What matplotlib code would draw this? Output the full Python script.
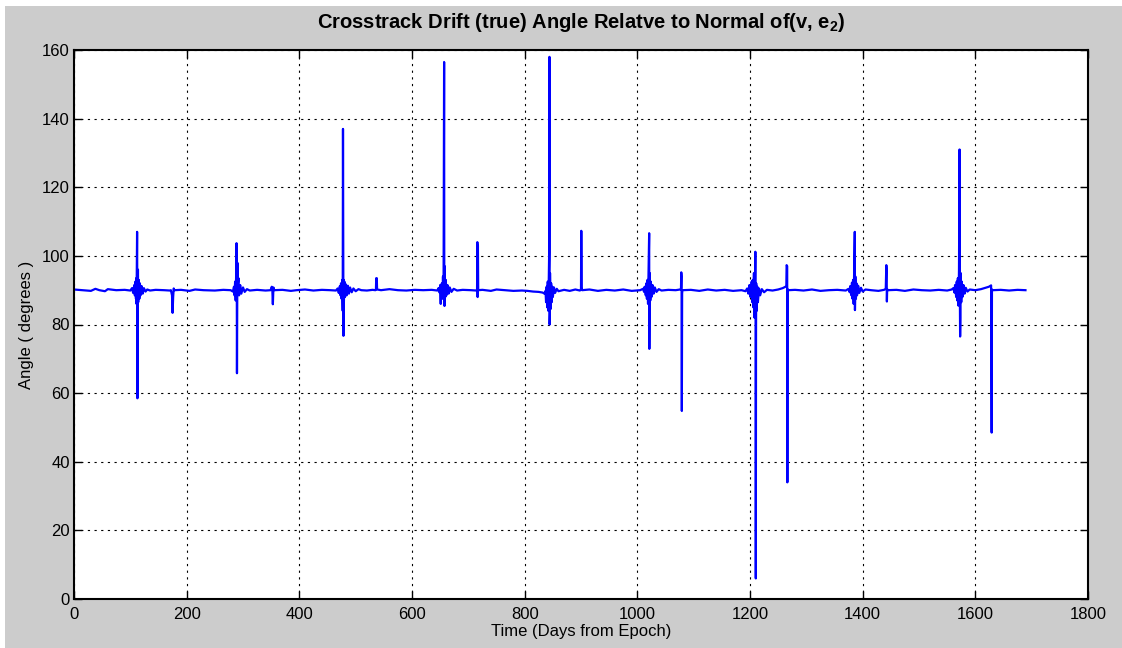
import matplotlib
matplotlib.use("Agg")
import matplotlib.pyplot as plt
from matplotlib.patches import Rectangle

plt.rcParams['font.family'] = ['Liberation Sans', 'DejaVu Sans']
plt.rcParams['mathtext.default'] = 'regular'

days = [0, 15, 30, 38, 45, 55, 60, 75, 90, 100,
        103, 105, 107, 108, 109, 110, 110.5, 111, 111.5, 112, 112.3, 112.6, 113, 113.5, 114, 115, 116, 117, 118, 120, 122, 124, 127, 130, 135,
        145, 160, 170,
        172, 174, 175, 176, 177, 178,
        190, 205, 215, 230, 250, 265, 278,
        282, 284, 285, 286, 287, 288, 288.5, 289, 289.3, 289.7, 290, 291, 292, 293, 295, 297, 300, 303, 307, 312,
        325, 340, 349,
        351, 352, 353, 354, 355,
        370, 385, 395, 410, 425, 440, 455, 465,
        468, 470, 472, 473, 474, 475, 476, 477, 477.5, 478, 478.3, 478.7, 479, 480, 481, 482, 484, 486, 488, 490, 493, 496, 500, 505, 510,
        520, 530, 535,
        536, 536.5, 537.5, 538,
        545, 560, 575, 590, 605, 620, 635, 645,
        647, 649, 650, 651, 651.5, 652, 653, 654, 655, 656, 657, 657.3, 657.7, 658, 659, 660, 661, 663, 665, 667, 670, 674, 680,
        690, 705, 714,
        715.5, 716, 716.5, 717, 717.5,
        725, 740, 750, 765, 780, 795,
        805, 815, 825, 832,
        835, 837, 838, 839, 840, 841, 842, 843, 843.5, 844, 844.3, 844.7, 845, 846, 847, 848, 849, 850, 852, 854, 857, 860,
        870, 880, 890, 898,
        900, 900.5, 901.2, 902,
        915, 930, 945, 960, 975, 990, 1005,
        1010, 1012, 1013, 1015, 1016, 1017, 1018, 1019, 1020, 1021, 1021.3, 1021.7, 1022, 1023, 1024, 1025, 1027, 1029, 1031, 1034, 1038, 1043,
        1055, 1068, 1076,
        1077.5, 1078, 1078.5, 1079, 1079.5, 1080,
        1095, 1110, 1125, 1140, 1155, 1170, 1185, 1192,
        1195, 1197, 1199, 1201, 1203, 1204, 1205, 1206, 1207, 1208, 1209, 1209.5, 1210, 1210.3, 1210.7, 1211, 1212, 1213, 1214, 1216, 1218, 1221, 1225, 1230,
        1240, 1250, 1258, 1263,
        1264.5, 1265, 1266, 1266.3, 1266.7, 1268,
        1280, 1295, 1310, 1325, 1340, 1355, 1370,
        1375, 1377, 1378, 1380, 1381, 1382, 1383, 1384, 1385, 1386, 1386.3, 1386.7, 1387, 1388, 1389, 1390, 1392, 1394, 1397, 1400, 1405,
        1415, 1428, 1438,
        1441, 1442, 1442.5, 1443, 1443.5, 1445,
        1460, 1475, 1490, 1505, 1520, 1535, 1550, 1558,
        1561, 1563, 1564, 1566, 1567, 1568, 1569, 1570, 1571, 1572, 1572.5, 1573, 1573.5, 1574, 1575, 1576, 1577, 1579, 1581, 1583, 1586, 1590,
        1600, 1610, 1618, 1624,
        1627, 1628, 1629, 1629.5, 1631,
        1645, 1660, 1675, 1689]

angle = [90.2, 90.0, 89.8, 90.4, 90.0, 89.7, 90.3, 90.0, 90.1, 89.9,
         90.6, 89.2, 91.5, 88.5, 92.5, 87.5, 93.5, 86, 97, 107, 90, 58.5, 82, 96, 86.5, 93, 87.5, 92, 88.5, 91.2, 89, 90.6, 89.6, 90.2, 89.9,
         90.1, 90.0, 89.9,
         90.0, 88.5, 83.4, 88, 90.5, 90.0,
         90.1, 89.8, 90.2, 90.0, 89.9, 90.1, 90.0,
         89.6, 91, 88.5, 92.5, 87, 96, 103.7, 90, 65.8, 86, 98, 92, 93.5, 88.5, 91.5, 89, 90.8, 89.5, 90.3, 89.9,
         90.1, 89.9, 90.0,
         91, 90.5, 85.9, 90.8, 90.0,
         90.1, 89.8, 90.0, 90.2, 89.9, 90.1, 90.0, 89.9,
         90.5, 89.2, 91.2, 88.5, 92, 87.5, 93, 84, 137, 90, 76.7, 93, 86, 92.5, 88, 91.8, 88.5, 91.3, 89, 90.8, 89.4, 90.5, 89.7, 90.3, 90.0,
         89.9, 90.1, 90.0,
         90.2, 93.5, 93.5, 90.2,
         90.0, 90.3, 90.0, 89.9, 90.1, 90.0, 90.1, 89.9,
         90.6, 89.3, 91.5, 86, 91, 88.5, 92, 87.5, 94, 88, 156.5, 90, 85.4, 97, 88, 93, 88.5, 91.5, 89, 90.8, 89.5, 90.4, 89.9,
         90.1, 90.0, 89.9,
         90.0, 104, 88, 103, 90,
         90.1, 89.8, 90.2, 90.0, 89.8, 89.9,
         89.8, 89.6, 89.5, 89.3,
         89.0, 89.8, 86.5, 91, 85, 92.5, 84, 96, 101, 158, 80, 83, 95, 84.5, 92, 86.5, 91, 88, 90.8, 89.2, 90.4, 89.7,
         90.1, 89.8, 90.2, 89.9,
         90.3, 107.3, 90.8, 90.0,
         90.2, 89.8, 90.1, 89.9, 90.2, 89.8, 90.0,
         90.4, 89.5, 91, 88.5, 92, 87.5, 93, 86, 97, 106.6, 72.9, 88, 95, 87, 92.5, 88, 91.5, 89, 90.8, 89.5, 90.3, 89.9,
         90.1, 90.0, 90.2,
         90.5, 95.2, 94, 54.8, 89, 90.0,
         90.1, 89.8, 90.2, 89.9, 90.1, 89.8, 90.0, 89.7,
         90.5, 89, 91.5, 88, 92.5, 86.5, 93, 85, 95, 82, 96, 101.2, 86, 6, 78, 92, 84, 91, 86.5, 90.5, 88.5, 90.3, 89.4, 90.1,
         89.9, 90.2, 90.6, 91,
         91.3, 97.3, 97, 34, 90.3, 90.0,
         90.1, 89.9, 90.2, 89.8, 90.0, 90.1, 89.9,
         90.4, 89.4, 91.2, 88.5, 92.2, 87.5, 93, 86, 97, 107, 84.2, 88, 94, 87.5, 92, 88.5, 91.3, 89.2, 90.7, 89.6, 90.2,
         90.0, 89.8, 90.1,
         90.4, 97.3, 96, 86.7, 90.3, 90.0,
         90.1, 89.8, 90.2, 90.0, 89.9, 90.1, 89.9, 90.2,
         90.6, 89.3, 91.5, 88, 92.5, 87, 93.5, 85.5, 96, 131, 90, 76.5, 82, 95, 86.5, 92.5, 88, 91.5, 89, 90.7, 89.6, 90.2,
         90.0, 90.3, 90.7, 91.0,
         91.3, 91.4, 48.5, 90.2, 90.0,
         90.1, 89.9, 90.1, 90.0]

xticks = [0, 200, 400, 600, 800, 1000, 1200, 1400, 1600, 1800]
yticks = [0, 20, 40, 60, 80, 100, 120, 140, 160]

W, H = 1122, 648
fig = plt.figure(figsize=(W / 100, H / 100), dpi=100, facecolor='white')
# grey MATLAB figure background with a thin white strip top and left
fig.patches.append(Rectangle((5 / W, 0), 1, (H - 6) / H, transform=fig.transFigure,
                             facecolor='#cccccc', edgecolor='none', zorder=-10))

ax = fig.add_axes([74 / W, 1 - 599 / H, (1088 - 74) / W, (599 - 50) / H])
ax.set_facecolor('white')
ax.plot(days, angle, color='#0000ff', lw=1.6)

ax.set_xlim(0, 1800)
ax.set_ylim(0, 160)
ax.set_xticks(xticks)
ax.set_yticks(yticks)
ax.grid(True, color='black', linestyle=(0, (2, 4)), linewidth=0.8)
ax.tick_params(direction='in', length=6, width=1, top=True, right=True,
               labelsize=12, colors='black')
ax.tick_params(axis='x', pad=6)
ax.tick_params(axis='y', pad=3)
for s in ax.spines.values():
    s.set_linewidth(1.5)

ax.set_xlabel('Time (Days from Epoch)', fontsize=12, labelpad=1)
ax.set_ylabel('Angle ( degrees )', fontsize=12, labelpad=6)
ax.set_title('Crosstrack Drift (true) Angle Relatve to Normal of(v, e$_2$)',
             fontsize=14.5, fontweight='bold', pad=16)

fig.savefig('out.png', dpi=100, facecolor=fig.get_facecolor())
